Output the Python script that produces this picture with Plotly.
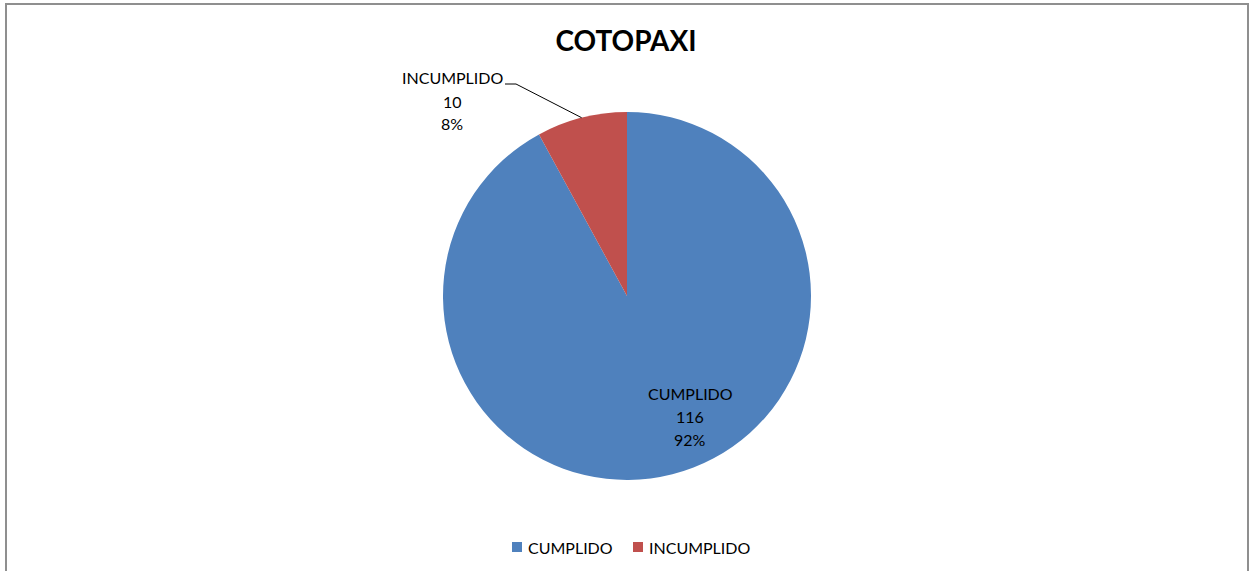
import math
import plotly.graph_objects as go

labels = ["CUMPLIDO", "INCUMPLIDO"]
values = [116, 10]
colors = ["#4F81BD", "#C0504D"]
title_text = "COTOPAXI"

W, H = 1251, 571
cx, cy, r = 627, 296, 184  # pie centre/radius in pixels


def px(x):
    return x / W


def py(y):
    return 1 - y / H


total = sum(values)
pcts = [round(v / total * 100) for v in values]

fig = go.Figure(go.Pie(
    labels=labels,
    values=values,
    marker=dict(colors=colors, line=dict(color="white", width=0)),
    sort=False,
    direction="clockwise",
    rotation=0,
    textinfo="none",
    hoverinfo="label+value+percent",
    showlegend=False,
    domain=dict(x=[px(cx - r), px(cx + r)], y=[py(cy + r), py(cy - r)]),
))

font = "Lato, Carlito, Calibri, sans-serif"
txt_font = dict(family=font, size=16, color="#000")


def add_label(lines, x, y_center, spacing=23):
    n = len(lines)
    for i, line in enumerate(lines):
        yy = y_center + (i - (n - 1) / 2) * spacing
        fig.add_annotation(x=px(x), y=py(yy), xref="paper", yref="paper",
                           text=line, showarrow=False, font=txt_font,
                           xanchor="center", yanchor="middle")


# data labels
add_label([labels[0], str(values[0]), f"{pcts[0]}%"], 690, 416)
add_label([labels[1], str(values[1]), f"{pcts[1]}%"], 452, 101)

# leader line for INCUMPLIDO, pointing to middle of its slice
start_frac = values[0] / total
mid = (start_frac + values[1] / total / 2) * 2 * math.pi
ex = cx + r * math.sin(mid)
ey = cy - r * math.cos(mid)
fig.add_shape(type="path",
              path=f"M {px(505)} {py(84)} L {px(516)} {py(84)} L {px(ex)} {py(ey)}",
              xref="paper", yref="paper", line=dict(color="black", width=1))

# legend (custom, to match spacing)
leg_sq_x = [512, 633]
leg_y = 547
for lab, col, sx in zip(labels, colors, leg_sq_x):
    fig.add_shape(type="rect", xref="paper", yref="paper",
                  x0=px(sx), x1=px(sx + 10), y0=py(leg_y + 5), y1=py(leg_y - 5),
                  fillcolor=col, line=dict(width=0))
    fig.add_annotation(x=px(sx + 14), y=py(leg_y), xref="paper", yref="paper",
                       text=lab, showarrow=False, font=txt_font,
                       xanchor="left", yanchor="middle")

# chart border
fig.add_shape(type="rect", xref="paper", yref="paper",
              x0=px(6), x1=px(1248), y0=py(600), y1=py(4),
              line=dict(color="#8f8f8f", width=2))

fig.update_layout(
    width=W, height=H,
    margin=dict(l=0, r=0, t=0, b=0),
    paper_bgcolor="white",
    plot_bgcolor="white",
    title=dict(text=f"<b>{title_text}</b>", x=px(626), xanchor="center",
               y=py(41), yanchor="middle",
               font=dict(family=font, size=28, color="#000")),
    showlegend=False,
)

fig.write_html("out.html",
               config={"displayModeBar": False},
               post_script="document.body.style.margin='0';document.body.style.overflow='hidden';")
